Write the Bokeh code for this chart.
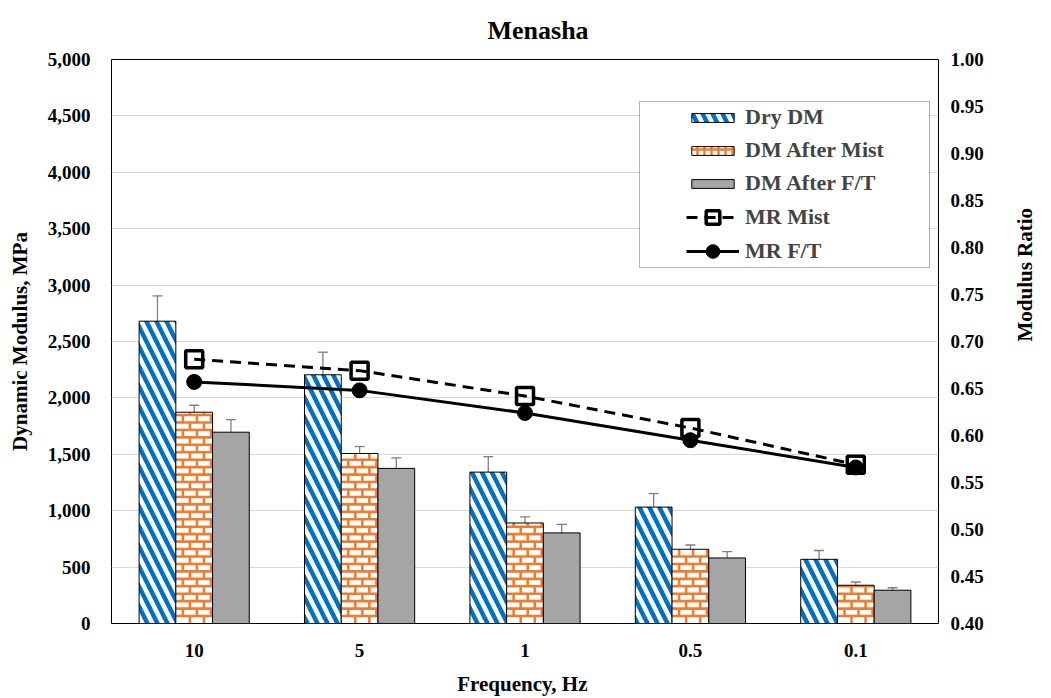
import math

from bokeh.plotting import figure
from bokeh.models import (ColumnDataSource, FactorRange, Range1d, LinearAxis, Whisker,
                          Legend, LegendItem, NumeralTickFormatter, FixedTicker,
                          TeeHead, BoxAnnotation)
from bokeh.transform import dodge
from bokeh.embed import file_html
from bokeh.resources import INLINE

# Loading frequencies (Hz)
frequencies = ["10", "5", "1", "0.5", "0.1"]

# Dynamic modulus (MPa) and error half-widths
dry_dm = [2680, 2205, 1342, 1032, 569]
dry_err = [225, 200, 137, 120, 78]
mist_dm = [1873, 1507, 891, 658, 339]
mist_err = [62, 62, 55, 38, 29]
ft_dm = [1696, 1375, 803, 581, 295]
ft_err = [112, 93, 75, 56, 22]

# Modulus ratios
mr_mist = [0.681, 0.669, 0.642, 0.608, 0.569]
mr_ft = [0.657, 0.648, 0.624, 0.595, 0.566]

# Axis ticks
dm_ticks = [0, 500, 1000, 1500, 2000, 2500, 3000, 3500, 4000, 4500, 5000]
mr_ticks = [0.40, 0.45, 0.50, 0.55, 0.60, 0.65, 0.70, 0.75, 0.80, 0.85, 0.90, 0.95, 1.00]

FONT = "Liberation Serif"
TICK_SIZE = "19px"
TITLE_SIZE = "21px"
LEGEND_SIZE = "22px"
ORANGE = "#ED7D31"
BLUE = "#0070C0"
GREY = "#A5A5A5"

src = ColumnDataSource(dict(
    freq=frequencies,
    dry=dry_dm, dry_lo=[v - e for v, e in zip(dry_dm, dry_err)], dry_hi=[v + e for v, e in zip(dry_dm, dry_err)],
    mist=mist_dm, mist_lo=[v - e for v, e in zip(mist_dm, mist_err)], mist_hi=[v + e for v, e in zip(mist_dm, mist_err)],
    ft=ft_dm, ft_lo=[v - e for v, e in zip(ft_dm, ft_err)], ft_hi=[v + e for v, e in zip(ft_dm, ft_err)],
    mr_mist=mr_mist, mr_ft=mr_ft,
))

p = figure(width=1051, height=698, x_range=FactorRange(factors=frequencies),
           y_range=Range1d(0, 5000), output_backend="svg", toolbar_location=None,
           min_border_left=111, min_border_right=113, min_border_top=59, min_border_bottom=74)
p.extra_y_ranges = {"mr": Range1d(0.4, 1.0)}

p.title.text = "Menasha"
p.title.align = "left"
p.title.offset = 376
p.title.vertical_align = "top"
p.title.text_font = FONT
p.title.text_font_size = "26px"
p.title.text_font_style = "bold"
p.title.text_color = "black"
p.title.standoff = 25

p.outline_line_color = "black"
p.outline_line_width = 1
p.xgrid.grid_line_color = None
p.ygrid.grid_line_color = "#d9d9d9"
p.ygrid.grid_line_width = 1.2
p.ygrid.ticker = FixedTicker(ticks=dm_ticks)

w = 0.222  # bar width in category units
r_dry = p.vbar(x=dodge("freq", -w, range=p.x_range), top="dry", width=w, source=src,
               fill_color="white", line_color="black", line_width=1,
               hatch_pattern="left_diagonal_line", hatch_color=BLUE,
               hatch_scale=20, hatch_weight=4.5)
r_mist = p.vbar(x=dodge("freq", 0, range=p.x_range), top="mist", width=w, source=src,
                fill_color="white", line_color=None)

# brick courses inside the after-mist bars
course = 66.0      # course height, MPa
brick_len = 0.085  # brick length, category units
bx0, by0, bx1, by1 = [], [], [], []
for i, top in enumerate(mist_dm):
    left = i + 0.5 - w / 2
    right_edge = i + 0.5 + w / 2
    k, y = 0, 0.0
    while y < top:
        y_next = min(y + course, top)
        if y > 0:
            bx0.append(left); by0.append(y); bx1.append(right_edge); by1.append(y)
        x = left + (brick_len / 2 if k % 2 else brick_len)
        while x < right_edge - 0.006:
            bx0.append(x); by0.append(y); bx1.append(x); by1.append(y_next)
            x += brick_len
        y, k = y_next, k + 1
p.segment(bx0, by0, bx1, by1, line_color=ORANGE, line_width=2.6)
p.vbar(x=dodge("freq", 0, range=p.x_range), top="mist", width=w, source=src,
       fill_color=None, line_color="black", line_width=1)
# swatch used for the after-mist legend entry
mist_key = p.vbar(x=dodge("freq", 0, range=p.x_range), top=0, width=w, source=src,
                  fill_color="white", line_color="black", line_width=1,
                  hatch_pattern="cross", hatch_color=ORANGE, hatch_scale=7, hatch_weight=2.4)

r_ft = p.vbar(x=dodge("freq", w, range=p.x_range), top="ft", width=w, source=src,
              fill_color=GREY, line_color="black", line_width=1)

for off, lo, hi in [(-w, "dry_lo", "dry_hi"), (0, "mist_lo", "mist_hi"), (w, "ft_lo", "ft_hi")]:
    p.add_layout(Whisker(base=dodge("freq", off, range=p.x_range), lower=lo, upper=hi, source=src,
                         line_color="#7f7f7f", line_width=1.3,
                         upper_head=TeeHead(size=10, line_color="#7f7f7f", line_width=1.3),
                         lower_head=TeeHead(size=10, line_color="#7f7f7f", line_width=1.3)))

l_mist = p.line("freq", "mr_mist", y_range_name="mr", source=src, line_color="black",
                line_width=3, line_dash="11 7")
s_mist = p.scatter("freq", "mr_mist", y_range_name="mr", source=src, marker="square",
                   size=17, fill_color=None, line_color="black", line_width=3.5)
l_ft = p.line("freq", "mr_ft", y_range_name="mr", source=src, line_color="black", line_width=3)
s_ft = p.scatter("freq", "mr_ft", y_range_name="mr", source=src, marker="circle",
                 size=15, fill_color="black", line_color="black")

# axes
bottom = p.below[0]
left_axis = p.left[0]
left_axis.ticker = FixedTicker(ticks=dm_ticks)
left_axis.formatter = NumeralTickFormatter(format="0,0")
left_axis.axis_label = "Dynamic Modulus, MPa"
bottom.axis_label = "Frequency,  Hz"

right = LinearAxis(y_range_name="mr", ticker=FixedTicker(ticks=mr_ticks),
                   formatter=NumeralTickFormatter(format="0.00"), axis_label="Modulus Ratio")
right.axis_label_orientation = math.pi / 2
p.add_layout(right, "right")

for ax in [bottom, left_axis, right]:
    ax.axis_line_color = None
    ax.major_tick_line_color = None
    ax.minor_tick_line_color = None
    ax.major_label_text_font = FONT
    ax.major_label_text_font_style = "bold"
    ax.major_label_text_font_size = TICK_SIZE
    ax.major_label_text_color = "black"
    ax.axis_label_text_font = FONT
    ax.axis_label_text_font_style = "bold"
    ax.axis_label_text_font_size = TITLE_SIZE
    ax.axis_label_text_color = "black"

left_axis.major_label_standoff = 15
left_axis.axis_label_standoff = 13
right.major_label_standoff = 6
right.axis_label_standoff = 38
bottom.major_label_standoff = 14
bottom.axis_label_standoff = 12

# legend frame and entries
p.add_layout(BoxAnnotation(left=639, right=929, top=101, bottom=267,
                           left_units="canvas", right_units="canvas",
                           top_units="canvas", bottom_units="canvas",
                           fill_color="white", fill_alpha=1,
                           line_color="black", line_width=1))

legend_style = dict(glyph_width=53, label_standoff=6, padding=0, border_line_color=None,
                    background_fill_alpha=0, label_text_font=FONT,
                    label_text_font_style="bold", label_text_font_size=LEGEND_SIZE)
bar_legend = Legend(items=[
    LegendItem(label="Dry DM", renderers=[r_dry]),
    LegendItem(label="DM After Mist", renderers=[mist_key]),
    LegendItem(label="DM After F/T", renderers=[r_ft]),
], location=(575, 427), glyph_height=11, spacing=7, **legend_style)
line_legend = Legend(items=[
    LegendItem(label="MR Mist", renderers=[l_mist, s_mist]),
    LegendItem(label="MR F/T", renderers=[l_ft, s_ft]),
], location=(575, 355), glyph_height=34, spacing=0, **legend_style)
p.add_layout(bar_legend, "center")
p.add_layout(line_legend, "center")

open("out.html", "w").write(file_html(p, INLINE))
